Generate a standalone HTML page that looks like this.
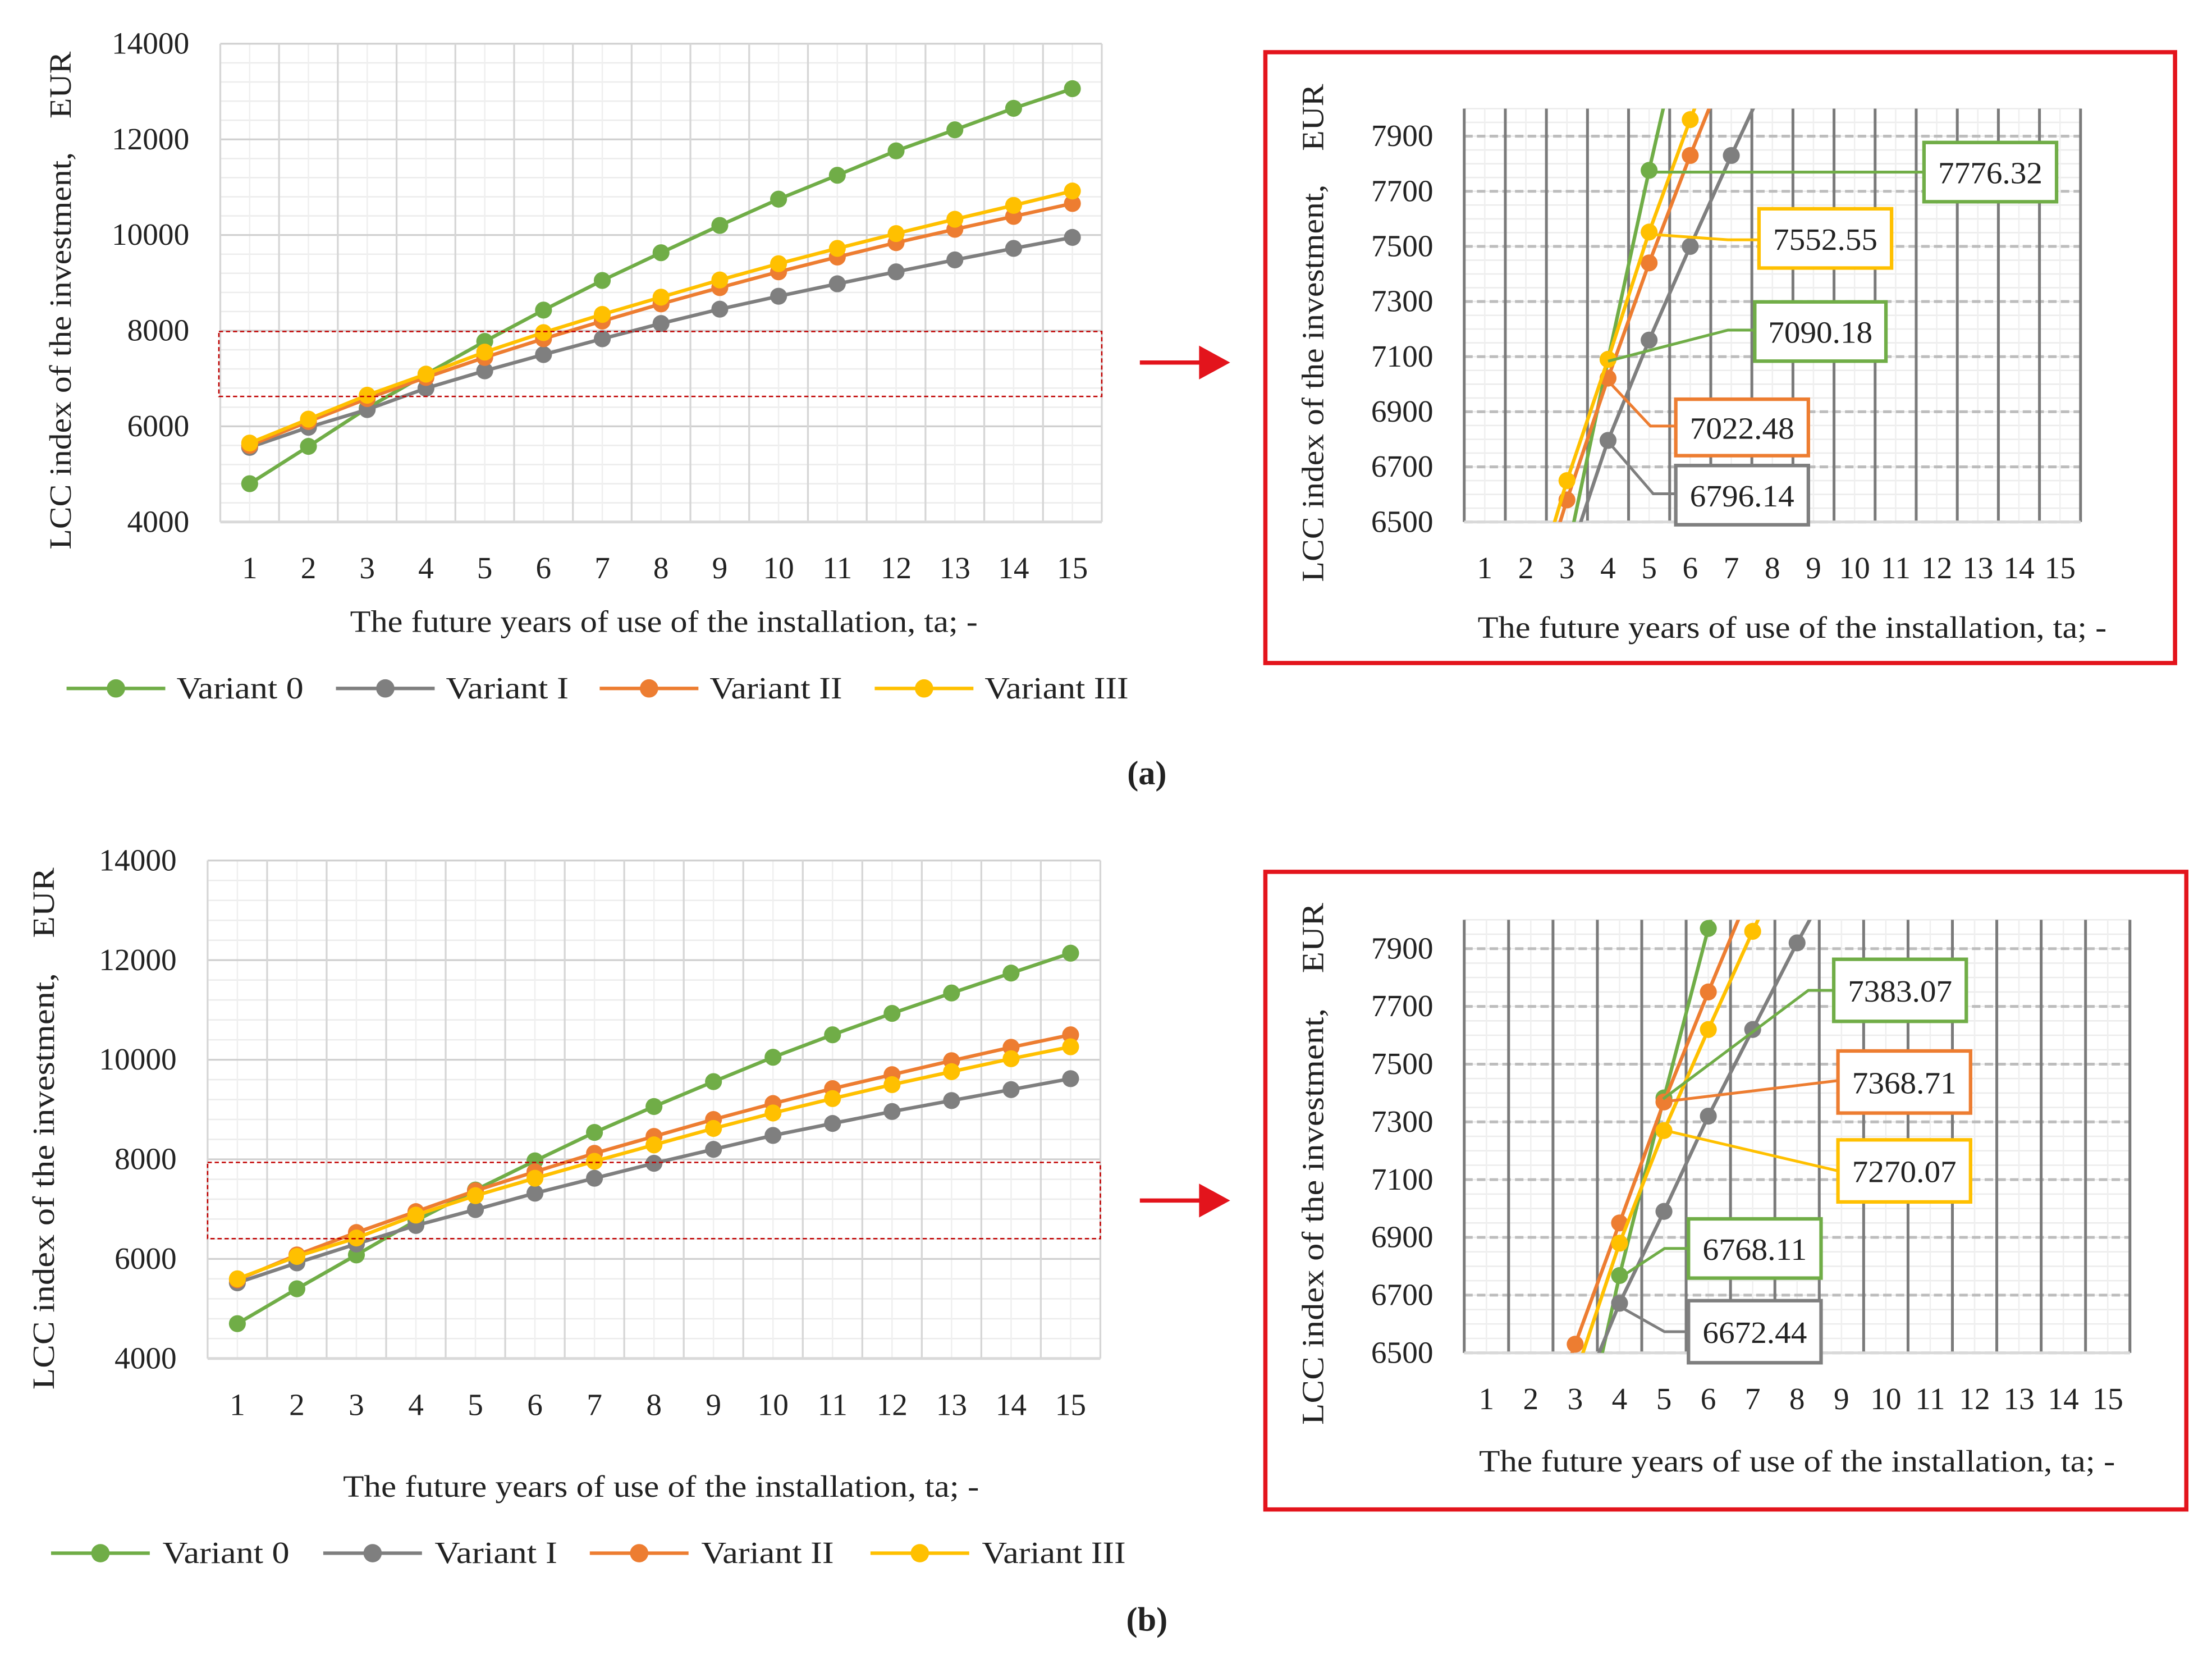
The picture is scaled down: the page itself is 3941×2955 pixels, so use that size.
<!DOCTYPE html>
<html><head><meta charset="utf-8">
<style>
html,body{margin:0;padding:0;background:#fff;overflow:hidden;width:3941px;height:2955px;}
svg{display:block;}
text{font-family:"Liberation Serif","DejaVu Serif",serif;fill:#222;}
</style></head>
<body>
<svg id="s" width="3941" height="2955" viewBox="0 0 1568 1176" xmlns="http://www.w3.org/2000/svg">
<g id="root"></g>
</svg>
<script>
const years = [1,2,3,4,5,6,7,8,9,10,11,12,13,14,15];
const seriesNames = ["Variant 0","Variant I","Variant II","Variant III"];
const colors = ["#70AD47","#7F7F7F","#ED7D31","#FFC000"];
const aV0 = [4800,5580,6380,7090,7776,8430,9050,9630,10200,10750,11250,11760,12200,12650,13060];
const aV1 = [5560,5980,6350,6796,7160,7500,7830,8150,8450,8720,8980,9230,9480,9720,9950];
const aV2 = [5600,6100,6580,7022,7440,7830,8200,8560,8900,9230,9540,9840,10120,10390,10660];
const aV3 = [5650,6150,6650,7090,7552,7960,8340,8700,9060,9400,9720,10030,10330,10620,10920];
const bV0 = [4700,5400,6080,6768,7383,7970,8540,9060,9560,10050,10500,10930,11340,11740,12140];
const bV1 = [5520,5920,6300,6672,6990,7320,7620,7920,8200,8480,8720,8960,9180,9400,9620];
const bV2 = [5580,6080,6530,6950,7369,7750,8120,8460,8800,9120,9420,9700,9980,10250,10500];
const bV3 = [5600,6050,6420,6880,7270,7620,7960,8290,8620,8930,9220,9500,9760,10020,10260];
const mainTicks = [4000,6000,8000,10000,12000,14000];
const zoomTicks = [6500,6700,6900,7100,7300,7500,7700,7900];

const NS="http://www.w3.org/2000/svg";
const root=document.getElementById('root');
function mk(tag,attrs,parent,txt){const e=document.createElementNS(NS,tag);for(const k in attrs){if(attrs[k]!==null)e.setAttribute(k,attrs[k]);}if(txt!==undefined)e.textContent=txt;(parent||root).appendChild(e);return e;}

let clipId=0;
function chart(o,data,prefix){
  const g=mk('g',{});
  
  
  const n=years.length, bw=(o.x1-o.x0)/n;
  const xs=i=>o.x0+bw*(i+0.5);
  const ys=v=>o.y1-(v-o.vmin)/(o.vmax-o.vmin)*(o.y1-o.y0);
  mk('rect',{x:o.x0,y:o.y0,width:o.x1-o.x0,height:o.y1-o.y0,fill:'#fff'},g);
  for(let v=o.vmin;v<=o.vmax+1e-6;v+=o.minor){mk('line',{x1:o.x0,x2:o.x1,y1:ys(v),y2:ys(v),stroke:'#ececec','stroke-width':1},g);}
  for(let i=0;i<n;i++){for(let k=1;k<o.vsub;k++){const x=o.x0+bw*i+bw*k/o.vsub;mk('line',{x1:x,x2:x,y1:o.y0,y2:o.y1,stroke:'#efefef','stroke-width':1},g);}}
  o.ticks.forEach(v=>{mk('line',{x1:o.x0,x2:o.x1,y1:ys(v),y2:ys(v),stroke:o.zoom?'#bdbdbd':'#d0d0d0','stroke-width':o.zoom?2:1.3,'stroke-dasharray':o.zoom?'6 3':null},g);});
  for(let i=0;i<=n;i++){const x=o.x0+bw*i;mk('line',{x1:x,x2:x,y1:o.y0,y2:o.y1,stroke:o.zoom?'#7a7a7a':'#d6d6d6','stroke-width':o.zoom?2:1.3},g);}
  mk('line',{x1:o.x0,x2:o.x1,y1:o.y1,y2:o.y1,stroke:'#d9d9d9','stroke-width':2},g);
  o.ticks.forEach(v=>{const t=mk('text',{x:o.x0-22,y:ys(v)+7,'text-anchor':'end','font-size':22},g,String(v));});
  years.forEach((y,i)=>{const t=mk('text',{x:xs(i),y:o.y1+40,'text-anchor':'middle','font-size':22},g,String(y));});
  const xt=mk('text',{x:(o.x0+o.x1)/2+(o.xtOff||0),y:o.xtY,'text-anchor':'middle','font-size':22,textLength:o.xtLen,lengthAdjust:'spacingAndGlyphs'},g,'The future years of use of the installation, ta; -');
  
  const yt=mk('text',{transform:`translate(${o.ytX},${o.ytC}) rotate(-90)`,'text-anchor':'middle','font-size':22,textLength:o.ytLen,lengthAdjust:'spacingAndGlyphs'},g,'LCC index of the investment,\u00a0\u00a0\u00a0\u00a0EUR');
  
  const cid='c'+(clipId++);
  const cp=mk('clipPath',{id:cid},g);mk('rect',{x:o.x0,y:o.y0-(o.zoom?0:12),width:o.x1-o.x0+12,height:o.y1-o.y0+(o.zoom?0:24)},cp);
  const sg=mk('g',{'clip-path':`url(#${cid})`},g);
  data.forEach((arr,si)=>{
    const pts=arr.map((v,i)=>xs(i)+','+ys(v)).join(' ');
    const pl=mk('polyline',{points:pts,fill:'none',stroke:colors[si],'stroke-width':2.5},sg);
    
    arr.forEach((v,i)=>{const c=mk('circle',{cx:xs(i),cy:ys(v),r:6,fill:colors[si]},sg);});
  });
}
const legLens=[90,87,94,102];
function legend(y,items){
  items.forEach((it,i)=>{
    const g=mk('g',{});
    mk('line',{x1:it[0],x2:it[0]+70,y1:y,y2:y,stroke:colors[i],'stroke-width':2.5},g);
    mk('circle',{cx:it[0]+35,cy:y,r:6.5,fill:colors[i]},g);
    mk('text',{x:it[1],y:y+7,'font-size':22,textLength:legLens[i],lengthAdjust:'spacingAndGlyphs'},g,seriesNames[i]);
  });
}
function callout(ax,ay,pts,bx,by,w,h,col,label){
  const g=mk('g',{});
  mk('polyline',{points:[[ax,ay]].concat(pts).map(p=>p.join(',')).join(' '),fill:'none',stroke:col,'stroke-width':2},g);
  mk('rect',{x:bx,y:by,width:w,height:h,fill:'#fff',stroke:col,'stroke-width':2.5},g);
  mk('text',{x:bx+w/2,y:by+h/2+8,'text-anchor':'middle','font-size':22,textLength:74,lengthAdjust:'spacingAndGlyphs'},g,label);
}
function redBox(x,y,w,h,name){const r=mk('rect',{x,y,width:w,height:h,fill:'none',stroke:'#E3141C','stroke-width':3});}
function arrow(y){const g=mk('g',{});
  mk('line',{x1:808,x2:852,y1:y,y2:y,stroke:'#E3141C','stroke-width':3},g);mk('polygon',{points:`850,${y-12} 872,${y} 850,${y+12}`,fill:'#E3141C'},g);}

chart({x0:156,x1:781,y0:31,y1:370,vmin:4000,vmax:14000,ticks:mainTicks,minor:400,vsub:2,xtY:448,xtLen:445,xtOff:2,ytX:50,ytC:213,ytLen:353},[aV0,aV1,aV2,aV3],'a-main');
const ra=mk('rect',{x:155,y:235,width:626,height:46,fill:'none',stroke:'#C00000','stroke-width':1,'stroke-dasharray':'3 2'});
legend(488,[[47,125],[238,316],[425,503],[620,698]]);
arrow(257);
redBox(897,37,645,433,'zoom-frame-a');
chart({x0:1038,x1:1475,y0:77,y1:370,vmin:6500,vmax:8000,ticks:zoomTicks,minor:50,vsub:2,xtY:452,xtLen:446,xtOff:14,ytX:938,ytC:236,ytLen:353,zoom:true},[aV0,aV1,aV2,aV3],'a-zoom');
callout(1169,122,[[1364,122]],1364,101,94,42,'#70AD47','7776.32');
callout(1169,166,[[1225,170],[1247,170]],1247,148,94,42,'#FFC000','7552.55');
callout(1140,256,[[1225,234],[1244,234]],1244,214,93,42,'#70AD47','7090.18');
callout(1140,270,[[1170,302],[1188,302]],1188,283,94,40,'#ED7D31','7022.48');
callout(1140,313,[[1172,350],[1188,350]],1188,330,94,42,'#7F7F7F','6796.14');
const ca=mk('text',{x:813,y:556,'text-anchor':'middle','font-size':24,'font-weight':'bold'},root,'(a)');

chart({x0:147,x1:780,y0:610,y1:963,vmin:4000,vmax:14000,ticks:mainTicks,minor:400,vsub:2,xtY:1061,xtLen:451,xtOff:5,ytX:38,ytC:800,ytLen:370},[bV0,bV1,bV2,bV3],'b-main');
const rb=mk('rect',{x:147,y:824,width:633,height:54,fill:'none',stroke:'#C00000','stroke-width':1,'stroke-dasharray':'3 2'});
legend(1101,[[36,115],[229,308],[418,497],[617,696]]);
arrow(851);
redBox(897,618,653,452,'zoom-frame-b');
chart({x0:1038,x1:1510,y0:652,y1:959,vmin:6500,vmax:8000,ticks:zoomTicks,minor:50,vsub:2,xtY:1043,xtLen:451,xtOff:0,ytX:938,ytC:825,ytLen:370,zoom:true},[bV0,bV1,bV2,bV3],'b-zoom');
callout(1179,779,[[1282,702],[1300,702]],1300,680,94,44,'#70AD47','7383.07');
callout(1179,781,[[1303,766]],1303,745,94,44,'#ED7D31','7368.71');
callout(1179,801,[[1303,830]],1303,808,94,44,'#FFC000','7270.07');
callout(1148,906,[[1180,885],[1197,885]],1197,864,94,42,'#70AD47','6768.11');
callout(1148,926,[[1180,944],[1197,944]],1197,922,94,44,'#7F7F7F','6672.44');
const cb=mk('text',{x:813,y:1156,'text-anchor':'middle','font-size':24,'font-weight':'bold'},root,'(b)');
</script>
</body></html>
